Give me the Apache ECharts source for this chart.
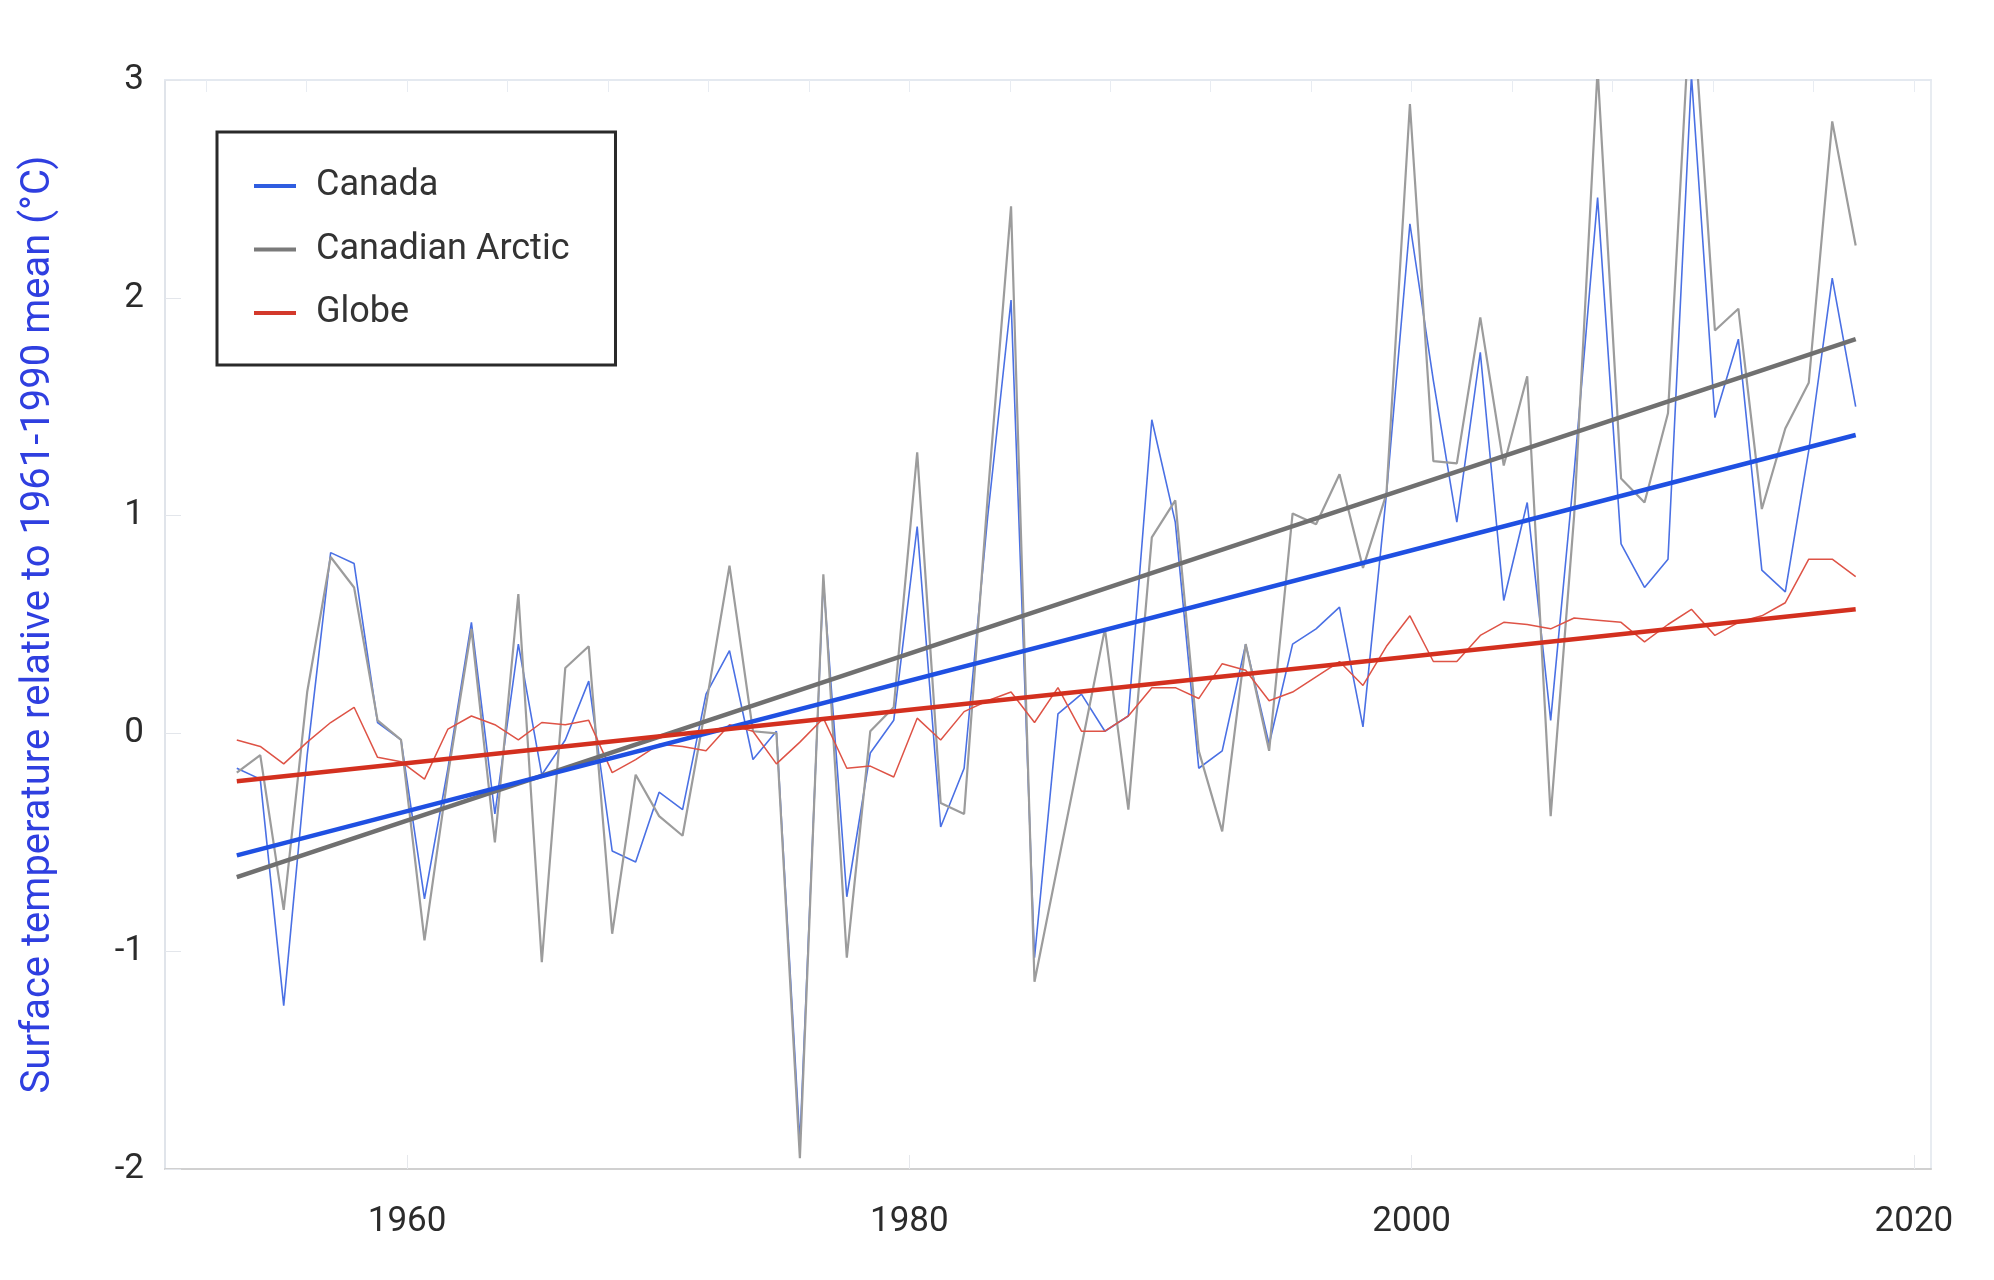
<!DOCTYPE html>
<html>
<head>
<meta charset="utf-8">
<script src="https://cdn.jsdelivr.net/npm/echarts@6/dist/echarts.min.js"></script>
<style>
html,body{margin:0;padding:0;background:#fff;}
#chart{width:1994px;height:1280px;}
</style>
</head>
<body>
<div id="chart"></div>
<script>
// ---- data (years of the annual series) ----
const years = [1948,1949,1950,1951,1952,1953,1954,1955,1956,1957,1958,1959,1960,1961,1962,1963,1964,1965,1966,1967,
  1968,1969,1970,1971,1972,1973,1974,1975,1976,1977,1978,1979,1980,1981,1982,1983,1984,1985,1986,1987,
  1988,1989,1990,1991,1992,1993,1994,1995,1996,1997,1998,1999,2000,2001,2002,2003,2004,2005,2006,2007,
  2008,2009,2010,2011,2012,2013,2014,2015,2016,2017];

const canada = [-0.16,-0.21,-1.25,-0.10,0.83,0.78,0.05,-0.03,-0.76,-0.16,0.51,-0.37,0.41,-0.19,-0.03,0.24,-0.54,-0.59,-0.27,-0.35,
  0.18,0.38,-0.12,0.01,-1.88,0.70,-0.75,-0.09,0.06,0.95,-0.43,-0.16,0.99,1.99,-1.03,0.09,0.18,0.01,0.08,1.44,
  0.97,-0.16,-0.08,0.41,-0.05,0.41,0.48,0.58,0.03,1.10,2.34,1.62,0.97,1.75,0.61,1.06,0.06,1.20,2.46,0.87,
  0.67,0.80,3.02,1.45,1.81,0.75,0.65,1.30,2.09,1.50];

const arctic = [-0.18,-0.10,-0.81,0.19,0.81,0.67,0.06,-0.03,-0.95,-0.19,0.48,-0.50,0.64,-1.05,0.30,0.40,-0.92,-0.19,-0.38,-0.47,
  0.13,0.77,0.01,0.00,-1.95,0.73,-1.03,0.01,0.12,1.29,-0.32,-0.37,1.08,2.42,-1.14,-0.60,-0.06,0.48,-0.35,0.90,
  1.07,-0.08,-0.45,0.41,-0.08,1.01,0.96,1.19,0.76,1.10,2.89,1.25,1.24,1.91,1.23,1.64,-0.38,1.00,3.05,1.17,
  1.06,1.47,3.45,1.85,1.95,1.03,1.40,1.61,2.81,2.24];

const globe = [-0.03,-0.06,-0.14,-0.04,0.05,0.12,-0.11,-0.13,-0.21,0.02,0.08,0.04,-0.03,0.05,0.04,0.06,-0.18,-0.12,-0.05,-0.06,
  -0.08,0.04,0.01,-0.14,-0.04,0.07,-0.16,-0.15,-0.20,0.07,-0.03,0.10,0.15,0.19,0.05,0.21,0.01,0.01,0.08,0.21,
  0.21,0.16,0.32,0.29,0.15,0.19,0.26,0.33,0.22,0.40,0.54,0.33,0.33,0.45,0.51,0.50,0.48,0.53,0.52,0.51,
  0.42,0.50,0.57,0.45,0.51,0.54,0.60,0.80,0.80,0.72];

// linear trend end points
const trendYears = [1948, 2017];
const canadaTrend = [-0.56, 1.37];
const arcticTrend = [-0.66, 1.81];
const globeTrend = [-0.22, 0.57];

// tick labels
const xTickLabels = [1960, 1980, 2000, 2020];
const xMinorTicks = [1952,1956,1960,1964,1968,1972,1976,1980,1984,1988,1992,1996,2000,2004,2008,2012,2016,2020];

const seriesNames = ['Canada', 'Canadian Arctic', 'Globe'];
const yTitle = 'Surface temperature relative to 1961-1990 mean (°C)';

const pairs = (xs, ys) => xs.map((x, i) => [x, ys[i]]);

const FONT = 'Roboto, "Noto Sans", sans-serif';
const chart = echarts.init(document.getElementById('chart'), null, {renderer: 'canvas'});

const option = {
  backgroundColor: '#ffffff',
  animation: false,
  grid: {left: 165, right: 63, top: 80, bottom: 111, containLabel: false},
  legend: {
    orient: 'vertical',
    left: 217, top: 132,
    padding: [33, 46, 31, 37],
    borderColor: '#2a2a2a', borderWidth: 3, borderRadius: 0,
    backgroundColor: '#ffffff',
    itemWidth: 42, itemHeight: 4, itemGap: 21.5,
    icon: 'rect',
    textStyle: {fontFamily: FONT, fontSize: 36, color: '#333333', lineHeight: 42, padding: [0, 0, 0, 15]},
    data: [
      {name: seriesNames[0], itemStyle: {color: '#2f5de0'}},
      {name: seriesNames[1], itemStyle: {color: '#7a7a7a'}},
      {name: seriesNames[2], itemStyle: {color: '#d3392b'}}
    ]
  },
  xAxis: [
    { // visible bottom axis with year labels
      type: 'value', position: 'bottom', min: 1950.36, max: 2020.68,
      axisLine: {show: true, onZero: false, lineStyle: {color: '#d0d0d0', width: 2}},
      axisTick: {show: true, inside: true, length: 14, customValues: xTickLabels, lineStyle: {color: '#e6e8ec', width: 1}},
      axisLabel: {show: true, customValues: xTickLabels, margin: 36, fontFamily: FONT, fontSize: 35, color: '#2b2b2b',
        formatter: v => String(Math.round(v))},
      splitLine: {show: false}
    },
    { // data axis (annual series spacing of the original figure)
      type: 'value', min: 1944.94, max: 2020.21, show: false,
      axisLine: {onZero: false}
    },
    { // top frame line with faint minor ticks
      type: 'value', position: 'top', min: 1950.36, max: 2020.68,
      axisLine: {show: true, onZero: false, lineStyle: {color: '#e4e9f0', width: 2}},
      axisTick: {show: true, inside: true, length: 12, customValues: xMinorTicks, lineStyle: {color: '#e8ecf2', width: 1}},
      axisLabel: {show: false},
      splitLine: {show: false}
    }
  ],
  yAxis: [
    {
      type: 'value', min: -2, max: 3, interval: 1, position: 'left',
      name: yTitle, nameLocation: 'middle', nameGap: 106, nameRotate: 90,
      nameTextStyle: {fontFamily: FONT, fontSize: 40, color: '#2f3fe0'},
      axisLine: {show: true, onZero: false, lineStyle: {color: '#e0e4ea', width: 2}},
      axisTick: {show: true, inside: true, length: 16, lineStyle: {color: '#e3e6eb', width: 1}},
      axisLabel: {margin: 21, fontFamily: FONT, fontSize: 35, color: '#2b2b2b'},
      splitLine: {show: false}
    },
    {
      type: 'value', min: -2, max: 3, interval: 1, position: 'right',
      axisLine: {show: true, onZero: false, lineStyle: {color: '#e8ecf1', width: 2}},
      axisTick: {show: false}, axisLabel: {show: false}, splitLine: {show: false}
    }
  ],
  series: [
    {name: seriesNames[0], type: 'line', xAxisIndex: 1, yAxisIndex: 0, data: pairs(years, canada),
      showSymbol: false, symbol: 'none', clip: true, z: 2,
      lineStyle: {color: '#4a70e4', width: 1.6}, itemStyle: {color: '#4a70e4'}},
    {name: seriesNames[1], type: 'line', xAxisIndex: 1, yAxisIndex: 0, data: pairs(years, arctic),
      showSymbol: false, symbol: 'none', clip: true, z: 3,
      lineStyle: {color: '#9c9c9c', width: 2.2}, itemStyle: {color: '#9c9c9c'}},
    {name: seriesNames[2], type: 'line', xAxisIndex: 1, yAxisIndex: 0, data: pairs(years, globe),
      showSymbol: false, symbol: 'none', clip: true, z: 4,
      lineStyle: {color: '#de5346', width: 1.5}, itemStyle: {color: '#de5346'}},
    {name: 'Canadian Arctic trend', type: 'line', xAxisIndex: 1, yAxisIndex: 0, data: pairs(trendYears, arcticTrend),
      showSymbol: false, symbol: 'none', z: 5, lineStyle: {color: '#707070', width: 4.5}},
    {name: 'Canada trend', type: 'line', xAxisIndex: 1, yAxisIndex: 0, data: pairs(trendYears, canadaTrend),
      showSymbol: false, symbol: 'none', z: 6, lineStyle: {color: '#1f50e2', width: 4.5}},
    {name: 'Globe trend', type: 'line', xAxisIndex: 1, yAxisIndex: 0, data: pairs(trendYears, globeTrend),
      showSymbol: false, symbol: 'none', z: 7, lineStyle: {color: '#d3301f', width: 4.5}}
  ]
};
chart.setOption(option);
</script>
</body>
</html>
